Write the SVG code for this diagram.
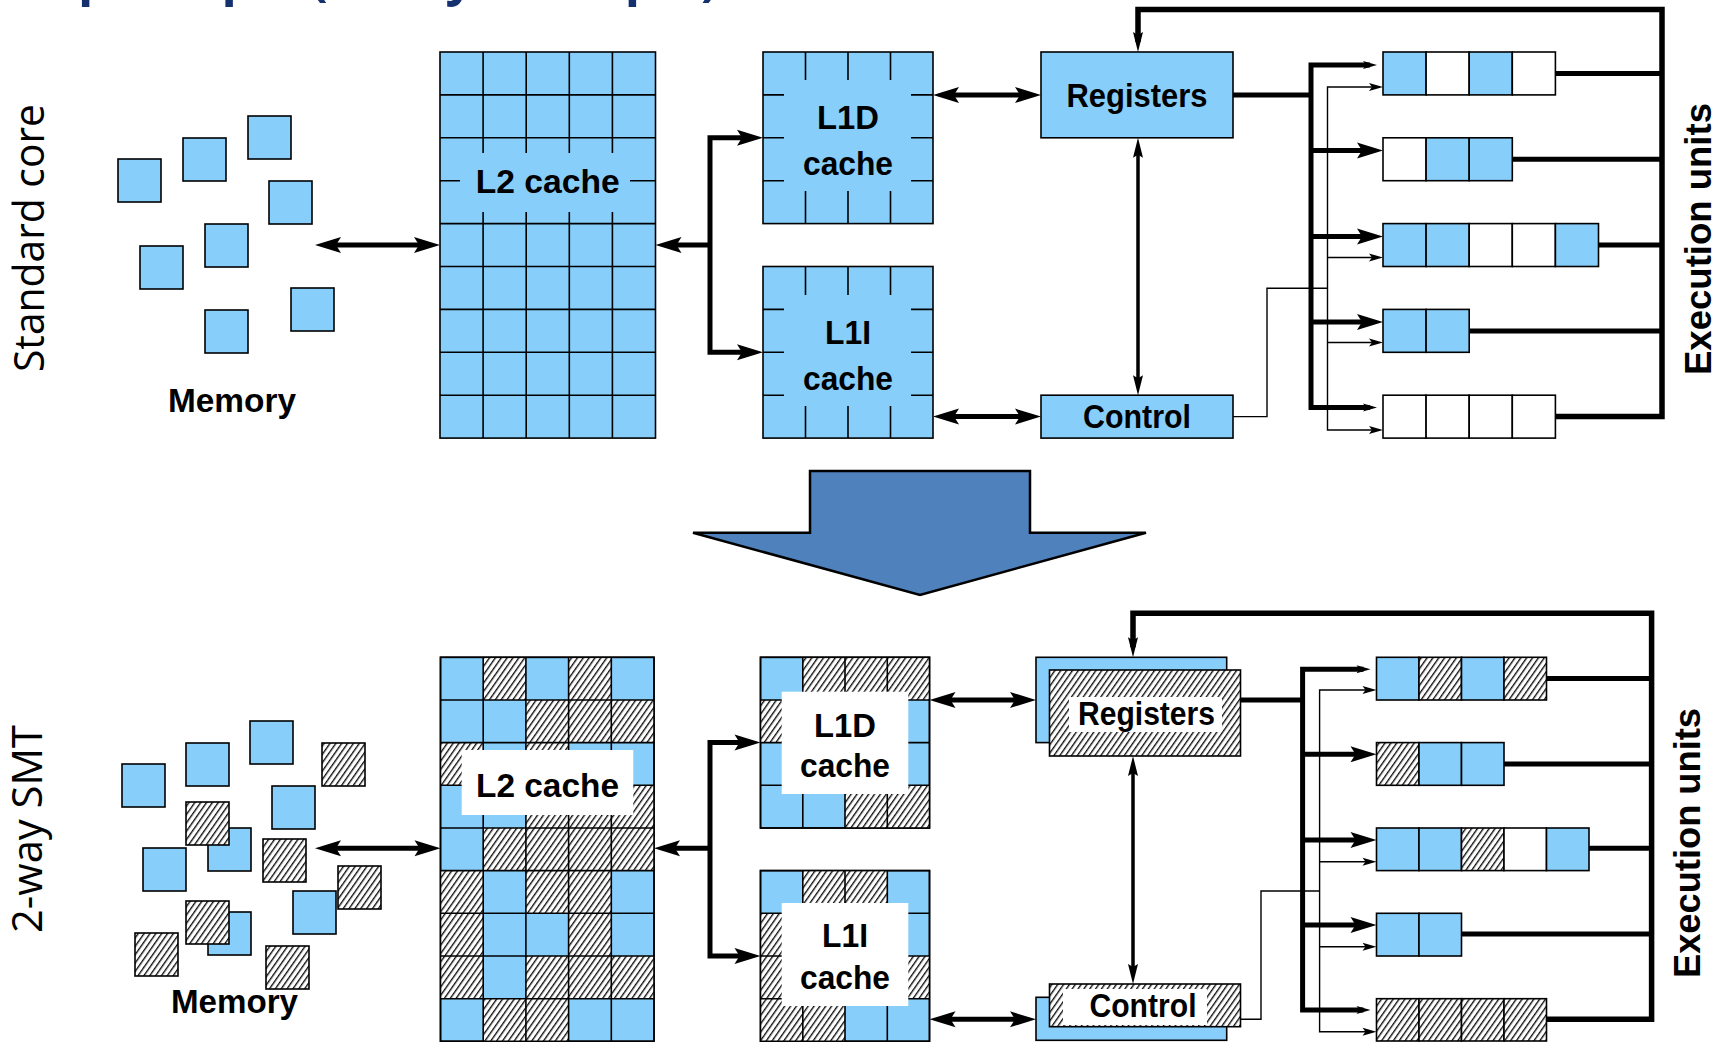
<svg xmlns="http://www.w3.org/2000/svg" width="1725" height="1042" viewBox="0 0 1725 1042">
<defs>
<pattern id="hatch" patternUnits="userSpaceOnUse" width="4.8" height="4.8" patternTransform="rotate(35)">
<rect width="4.8" height="4.8" fill="#fff"/>
<line x1="0.7" y1="0" x2="0.7" y2="4.8" stroke="#000" stroke-width="1.3"/>
</pattern>
<marker id="ab" viewBox="-15 -10 30 20" refX="0" refY="0" markerWidth="30" markerHeight="20" markerUnits="userSpaceOnUse" orient="auto-start-reverse">
<path d="M13,0 L-13,-8 L-8,0 L-13,8 Z" fill="#000"/>
</marker>
<marker id="an" viewBox="-12 -7 24 14" refX="0" refY="0" markerWidth="24" markerHeight="14" markerUnits="userSpaceOnUse" orient="auto-start-reverse">
<path d="M10,0 L-10,-5 L-7,0 L-10,5 Z" fill="#000"/>
</marker>
<marker id="at" viewBox="-9 -5 18 10" refX="0" refY="0" markerWidth="18" markerHeight="10" markerUnits="userSpaceOnUse" orient="auto-start-reverse">
<path d="M7,0 L-7,-4 L-4,0 L-7,4 Z" fill="#000"/>
</marker>
</defs>
<style>
.b{fill:#87cefa;stroke:#000;stroke-width:1.6}
.h{fill:url(#hatch);stroke:#000;stroke-width:1.6}
.w{fill:#fff;stroke:#000;stroke-width:1.6}
.hf{fill:url(#hatch);stroke:none}
.g{fill:none;stroke:#000;stroke-width:1.6}
.cb{fill:#87cefa;stroke:none}
.cw{fill:#fff;stroke:none}
.lbl{font-family:"Liberation Sans",Arial,sans-serif;font-weight:bold;font-size:33px;text-anchor:middle;fill:#000}
.side{font-family:"Open Sans",sans-serif;font-size:42px;text-anchor:middle;fill:#000}
.eu{font-family:"Liberation Sans",Arial,sans-serif;font-weight:bold;font-size:37px;text-anchor:middle;fill:#000}
.thk{fill:none;stroke:#000;stroke-width:5;stroke-linejoin:miter}
.fb{fill:none;stroke:#000;stroke-width:5.5;stroke-linejoin:miter}
.out{fill:none;stroke:#000;stroke-width:5}
.nar{fill:none;stroke:#000;stroke-width:3.5}
.thn{fill:none;stroke:#000;stroke-width:1.4}
.ma{marker-start:url(#ab);marker-end:url(#ab)}
.me{marker-end:url(#ab)}
.mn{marker-end:url(#an)}
.mnn{marker-start:url(#an);marker-end:url(#an)}
.mt{marker-end:url(#at)}
.mtt{marker-start:url(#at);marker-end:url(#at)}
</style>
<rect width="1725" height="1042" fill="#fff"/>
<text x="78" y="-5" font-family="'Open Sans',sans-serif" font-weight="bold" font-size="50" fill="#14306e">principle (2-way example)</text>
<text class="side" transform="translate(44,238) rotate(-90)" textLength="268" lengthAdjust="spacingAndGlyphs">Standard core</text>
<text class="side" transform="translate(42,829) rotate(-90)" textLength="208" lengthAdjust="spacingAndGlyphs">2-way SMT</text>
<g id="top-memory">
<rect class="b" x="118" y="159" width="43" height="43"/>
<rect class="b" x="183" y="138" width="43" height="43"/>
<rect class="b" x="248" y="116" width="43" height="43"/>
<rect class="b" x="269" y="181" width="43" height="43"/>
<rect class="b" x="205" y="224" width="43" height="43"/>
<rect class="b" x="140" y="246" width="43" height="43"/>
<rect class="b" x="291" y="288" width="43" height="43"/>
<rect class="b" x="205" y="310" width="43" height="43"/>
<text class="lbl" x="232" y="412" textLength="128" lengthAdjust="spacingAndGlyphs">Memory</text>
</g>
<g id="top-l2">
<rect class="b" x="440" y="52" width="215.5" height="386.1"/>
<path class="g" d="M483.1,52V438.1M526.2,52V438.1M569.3,52V438.1M612.4,52V438.1M440,94.9H655.5M440,137.8H655.5M440,180.7H655.5M440,223.6H655.5M440,266.5H655.5M440,309.4H655.5M440,352.3H655.5M440,395.2H655.5"/>
<rect class="cb" x="460" y="153" width="170" height="59"/>
<text class="lbl" x="547.7" y="193" textLength="144" lengthAdjust="spacingAndGlyphs">L2 cache</text>
</g>
<g id="top-l1d">
<rect class="b" x="763" y="52" width="170" height="171.6"/>
<path class="g" d="M805.5,52V223.6M848,52V223.6M890.5,52V223.6M763,94.9H933M763,137.8H933M763,180.7H933"/>
<rect class="cb" x="784" y="80" width="127" height="111"/>
<text class="lbl" x="848" y="129" textLength="62" lengthAdjust="spacingAndGlyphs">L1D</text>
<text class="lbl" x="848" y="175" textLength="90" lengthAdjust="spacingAndGlyphs">cache</text>
</g>
<g id="top-l1i">
<rect class="b" x="763" y="266.5" width="170" height="171.6"/>
<path class="g" d="M805.5,266.5V438.1M848,266.5V438.1M890.5,266.5V438.1M763,309.4H933M763,352.3H933M763,395.2H933"/>
<rect class="cb" x="784" y="295" width="127" height="111"/>
<text class="lbl" x="848" y="344" textLength="46" lengthAdjust="spacingAndGlyphs">L1I</text>
<text class="lbl" x="848" y="390" textLength="90" lengthAdjust="spacingAndGlyphs">cache</text>
</g>
<g id="top-registers">
<rect class="b" x="1041" y="52" width="192" height="85.8"/>
<text class="lbl" x="1137" y="107" textLength="141" lengthAdjust="spacingAndGlyphs">Registers</text>
</g>
<g id="top-control">
<rect class="b" x="1041" y="395.2" width="192" height="42.9"/>
<text class="lbl" x="1137" y="428" textLength="108" lengthAdjust="spacingAndGlyphs">Control</text>
</g>
<g id="top-exec1">
<rect class="b" x="1383" y="52" width="43.1" height="42.9"/><rect class="w" x="1426.1" y="52" width="43.1" height="42.9"/><rect class="b" x="1469.2" y="52" width="43.1" height="42.9"/><rect class="w" x="1512.3" y="52" width="43.1" height="42.9"/>
</g>
<g id="top-exec2">
<rect class="w" x="1383" y="137.8" width="43.1" height="42.9"/><rect class="b" x="1426.1" y="137.8" width="43.1" height="42.9"/><rect class="b" x="1469.2" y="137.8" width="43.1" height="42.9"/>
</g>
<g id="top-exec3">
<rect class="b" x="1383" y="223.6" width="43.1" height="42.9"/><rect class="b" x="1426.1" y="223.6" width="43.1" height="42.9"/><rect class="w" x="1469.2" y="223.6" width="43.1" height="42.9"/><rect class="w" x="1512.3" y="223.6" width="43.1" height="42.9"/><rect class="b" x="1555.4" y="223.6" width="43.1" height="42.9"/>
</g>
<g id="top-exec4">
<rect class="b" x="1383" y="309.4" width="43.1" height="42.9"/><rect class="b" x="1426.1" y="309.4" width="43.1" height="42.9"/>
</g>
<g id="top-exec5">
<rect class="w" x="1383" y="395.2" width="43.1" height="42.9"/><rect class="w" x="1426.1" y="395.2" width="43.1" height="42.9"/><rect class="w" x="1469.2" y="395.2" width="43.1" height="42.9"/><rect class="w" x="1512.3" y="395.2" width="43.1" height="42.9"/>
</g>
<text class="eu" transform="translate(1711,239) rotate(-90)" textLength="272" lengthAdjust="spacingAndGlyphs">Execution units</text>
<g id="top-connectors">
<path class="thk ma" d="M328,245H427"/>
<path class="thk me" d="M710,245H668.5"/>
<path class="thk ma" d="M750,137.8H710V352.3H750"/>
<path class="thk ma" d="M946,95H1028"/>
<path class="thk ma" d="M946,416.6H1028"/>
<path class="nar mnn" d="M1138,147.8V385.2"/>
<path class="fb mn" d="M1555.4,416.6H1662V9.5H1138V42"/>
<path class="out" d="M1555.4,73.5H1662M1512.3,159.3H1662M1598.5,245H1662M1469.2,331H1662"/>
<path class="out" d="M1233,95H1311"/>
<path class="thk mtt" d="M1370,65H1311V407.5H1370"/>
<path class="thk me" d="M1311,150.5H1370"/>
<path class="thk me" d="M1311,236.5H1370"/>
<path class="thk me" d="M1311,322H1370"/>
<path class="thn" d="M1233,416.6H1267V288.3H1327.5"/>
<path class="thn mtt" d="M1376,87H1327.5V430H1376"/>
<path class="thn mt" d="M1327.5,257.5H1376"/>
<path class="thn mt" d="M1327.5,342.5H1376"/>
</g>
<g id="big-arrow">
<polygon points="810,471 1030,471 1030,532.7 1146,532.7 920,595 693,532.7 810,532.7" fill="#4f81bd" stroke="#000" stroke-width="2.5" stroke-linejoin="miter"/>
</g>
<g id="bottom-memory">
<rect class="b" x="122" y="764" width="43" height="43"/>
<rect class="b" x="186" y="743" width="43" height="43"/>
<rect class="b" x="250" y="721" width="43" height="43"/>
<rect class="b" x="272" y="786" width="43" height="43"/>
<rect class="b" x="208" y="828" width="43" height="43"/>
<rect class="b" x="143" y="848" width="43" height="43"/>
<rect class="b" x="293" y="891" width="43" height="43"/>
<rect class="b" x="208" y="912" width="43" height="43"/>
<rect class="h" x="322" y="743" width="43" height="43"/>
<rect class="h" x="186" y="802" width="43" height="43"/>
<rect class="h" x="263" y="839" width="43" height="43"/>
<rect class="h" x="338" y="866" width="43" height="43"/>
<rect class="h" x="186" y="901" width="43" height="43"/>
<rect class="h" x="135" y="933" width="43" height="43"/>
<rect class="h" x="266" y="946" width="43" height="43"/>
<text class="lbl" x="234.5" y="1013" textLength="127" lengthAdjust="spacingAndGlyphs">Memory</text>
</g>
<g id="bottom-l2">
<rect class="b" x="440.5" y="657.3" width="213.5" height="384"/>
<rect class="hf" x="483.2" y="657.3" width="42.7" height="42.7"/><rect class="hf" x="568.6" y="657.3" width="42.7" height="42.7"/>
<rect class="hf" x="525.9" y="700" width="42.7" height="42.6"/><rect class="hf" x="568.6" y="700" width="42.7" height="42.6"/><rect class="hf" x="611.3" y="700" width="42.7" height="42.6"/>
<rect class="hf" x="440.5" y="742.6" width="42.7" height="42.7"/><rect class="hf" x="525.9" y="742.6" width="42.7" height="42.7"/>
<rect class="hf" x="525.9" y="785.3" width="42.7" height="42.7"/><rect class="hf" x="568.6" y="785.3" width="42.7" height="42.7"/><rect class="hf" x="611.3" y="785.3" width="42.7" height="42.7"/>
<rect class="hf" x="483.2" y="828" width="42.7" height="42.6"/><rect class="hf" x="525.9" y="828" width="42.7" height="42.6"/><rect class="hf" x="568.6" y="828" width="42.7" height="42.6"/><rect class="hf" x="611.3" y="828" width="42.7" height="42.6"/>
<rect class="hf" x="440.5" y="870.6" width="42.7" height="42.7"/><rect class="hf" x="525.9" y="870.6" width="42.7" height="42.7"/><rect class="hf" x="568.6" y="870.6" width="42.7" height="42.7"/>
<rect class="hf" x="440.5" y="913.3" width="42.7" height="42.7"/><rect class="hf" x="568.6" y="913.3" width="42.7" height="42.7"/>
<rect class="hf" x="440.5" y="956" width="42.7" height="42.7"/><rect class="hf" x="525.9" y="956" width="42.7" height="42.7"/><rect class="hf" x="568.6" y="956" width="42.7" height="42.7"/><rect class="hf" x="611.3" y="956" width="42.7" height="42.7"/>
<rect class="hf" x="483.2" y="998.7" width="42.7" height="42.6"/><rect class="hf" x="525.9" y="998.7" width="42.7" height="42.6"/>
<path class="g" d="M483.2,657.3V1041.3M525.9,657.3V1041.3M568.6,657.3V1041.3M611.3,657.3V1041.3M440.5,700H654M440.5,742.6H654M440.5,785.3H654M440.5,828H654M440.5,870.6H654M440.5,913.3H654M440.5,956H654M440.5,998.7H654"/>
<rect class="g" x="440.5" y="657.3" width="213.5" height="384"/>
<rect class="cw" x="461.7" y="750" width="171.6" height="65"/>
<text class="lbl" x="547.5" y="797" textLength="143" lengthAdjust="spacingAndGlyphs">L2 cache</text>
</g>
<g id="bottom-l1d">
<rect class="b" x="760.5" y="657.3" width="169" height="170.7"/>
<rect class="hf" x="802.8" y="657.3" width="42.2" height="42.7"/><rect class="hf" x="845" y="657.3" width="42.3" height="42.7"/><rect class="hf" x="887.3" y="657.3" width="42.2" height="42.7"/>
<rect class="hf" x="760.5" y="700" width="42.3" height="42.6"/>
<rect class="hf" x="845" y="785.3" width="42.3" height="42.7"/><rect class="hf" x="887.3" y="785.3" width="42.2" height="42.7"/>
<path class="g" d="M802.8,657.3V828M845,657.3V828M887.3,657.3V828M760.5,700H929.5M760.5,742.6H929.5M760.5,785.3H929.5"/>
<rect class="g" x="760.5" y="657.3" width="169" height="170.7"/>
<rect class="cw" x="781.7" y="691.7" width="126.6" height="102.3"/>
<text class="lbl" x="845" y="736.7" textLength="62" lengthAdjust="spacingAndGlyphs">L1D</text>
<text class="lbl" x="845" y="777.3" textLength="90" lengthAdjust="spacingAndGlyphs">cache</text>
</g>
<g id="bottom-l1i">
<rect class="b" x="760.5" y="870.6" width="169" height="170.7"/>
<rect class="hf" x="802.8" y="870.6" width="42.2" height="42.7"/><rect class="hf" x="845" y="870.6" width="42.3" height="42.7"/>
<rect class="hf" x="760.5" y="913.3" width="42.3" height="42.7"/>
<rect class="hf" x="760.5" y="956" width="42.3" height="42.7"/><rect class="hf" x="887.3" y="956" width="42.2" height="42.7"/>
<rect class="hf" x="760.5" y="998.7" width="42.3" height="42.6"/><rect class="hf" x="802.8" y="998.7" width="42.2" height="42.6"/>
<path class="g" d="M802.8,870.6V1041.3M845,870.6V1041.3M887.3,870.6V1041.3M760.5,913.3H929.5M760.5,956H929.5M760.5,998.7H929.5"/>
<rect class="g" x="760.5" y="870.6" width="169" height="170.7"/>
<rect class="cw" x="781.7" y="903" width="126.6" height="103"/>
<text class="lbl" x="845" y="946.7" textLength="46" lengthAdjust="spacingAndGlyphs">L1I</text>
<text class="lbl" x="845" y="988.5" textLength="90" lengthAdjust="spacingAndGlyphs">cache</text>
</g>
<g id="bottom-registers">
<rect class="b" x="1036" y="657.3" width="190.7" height="85.3"/>
<rect class="h" x="1049.5" y="670" width="191" height="86"/>
<rect class="cw" x="1069" y="697" width="153" height="35"/>
<text class="lbl" x="1146.5" y="725" textLength="137" lengthAdjust="spacingAndGlyphs">Registers</text>
</g>
<g id="bottom-control">
<rect class="b" x="1036" y="997.3" width="190.7" height="43"/>
<rect class="h" x="1049.5" y="984" width="191" height="42.7"/>
<rect class="cw" x="1063" y="989" width="144" height="36"/>
<text class="lbl" x="1143" y="1016.7" textLength="107" lengthAdjust="spacingAndGlyphs">Control</text>
</g>
<g id="bottom-exec1">
<rect class="b" x="1376.5" y="657.3" width="42.5" height="42.7"/><rect class="h" x="1419" y="657.3" width="42.5" height="42.7"/><rect class="b" x="1461.5" y="657.3" width="42.5" height="42.7"/><rect class="h" x="1504" y="657.3" width="42.5" height="42.7"/>
</g>
<g id="bottom-exec2">
<rect class="h" x="1376.5" y="742.6" width="42.5" height="42.7"/><rect class="b" x="1419" y="742.6" width="42.5" height="42.7"/><rect class="b" x="1461.5" y="742.6" width="42.5" height="42.7"/>
</g>
<g id="bottom-exec3">
<rect class="b" x="1376.5" y="828" width="42.5" height="42.6"/><rect class="b" x="1419" y="828" width="42.5" height="42.6"/><rect class="h" x="1461.5" y="828" width="42.5" height="42.6"/><rect class="w" x="1504" y="828" width="42.5" height="42.6"/><rect class="b" x="1546.5" y="828" width="42.5" height="42.6"/>
</g>
<g id="bottom-exec4">
<rect class="b" x="1376.5" y="913.3" width="42.5" height="42.7"/><rect class="b" x="1419" y="913.3" width="42.5" height="42.7"/>
</g>
<g id="bottom-exec5">
<rect class="h" x="1376.5" y="998.7" width="42.5" height="42.3"/><rect class="h" x="1419" y="998.7" width="42.5" height="42.3"/><rect class="h" x="1461.5" y="998.7" width="42.5" height="42.3"/><rect class="h" x="1504" y="998.7" width="42.5" height="42.3"/>
</g>
<text class="eu" transform="translate(1700,843) rotate(-90)" textLength="270" lengthAdjust="spacingAndGlyphs">Execution units</text>
<g id="bottom-connectors">
<path class="thk ma" d="M328,848.3H427.5"/>
<path class="thk me" d="M710,848.3H667"/>
<path class="thk ma" d="M747.5,742.6H710V956H747.5"/>
<path class="thk ma" d="M942.5,700H1023"/>
<path class="thk ma" d="M942.5,1019.3H1023"/>
<path class="nar mnn" d="M1133,766V974"/>
<path class="fb mn" d="M1546.5,1019.3H1651.6V613.3H1133V647.3"/>
<path class="out" d="M1546.5,678.6H1651.6M1504,764H1651.6M1589,848.3H1651.6M1461.5,934H1651.6"/>
<path class="out" d="M1240.5,700H1302.6"/>
<path class="thk mtt" d="M1363.5,669.3H1302.6V1010H1363.5"/>
<path class="thk me" d="M1302.6,754.3H1363.5"/>
<path class="thk me" d="M1302.6,840H1363.5"/>
<path class="thk me" d="M1302.6,925H1363.5"/>
<path class="thn" d="M1240.5,1019.3H1261V891H1319.6"/>
<path class="thn mtt" d="M1369.5,690H1319.6V1031.7H1369.5"/>
<path class="thn mt" d="M1319.6,861.7H1369.5"/>
<path class="thn mt" d="M1319.6,946.7H1369.5"/>
</g>
</svg>
